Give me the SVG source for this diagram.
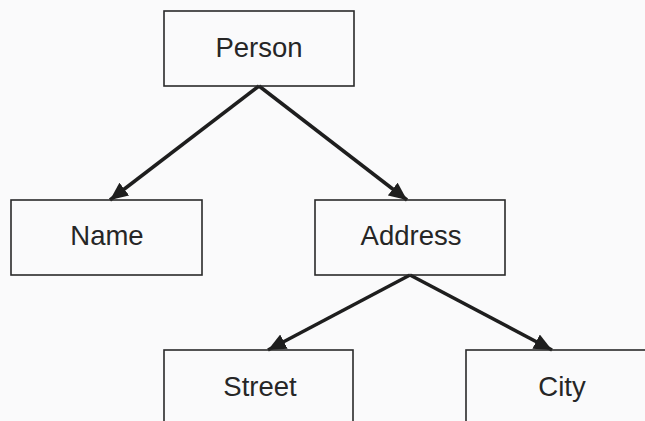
<svg xmlns="http://www.w3.org/2000/svg" width="645" height="421" viewBox="0 0 645 421">
<style>
.box{fill:none;stroke:#2a2a2a;stroke-width:1.6}
.lbl{font-family:"Liberation Sans",Arial,sans-serif;font-size:27.5px;fill:#262626;text-anchor:middle}
.edge{stroke:#1e1e1e;stroke-width:3.5;fill:none;marker-end:url(#ah)}
</style>
<defs>
<marker id="ah" markerUnits="userSpaceOnUse" markerWidth="20" markerHeight="16" refX="18" refY="8" orient="auto">
<path d="M0,0 L18,8 L0,16 Z" fill="#1e1e1e"/>
</marker>
</defs>
<rect width="645" height="421" fill="#fafafb"/>
<g id="connectors">
<line class="edge" x1="259" y1="86" x2="110" y2="200"/>
<line class="edge" x1="259" y1="86" x2="407" y2="200"/>
<line class="edge" x1="410" y1="275" x2="268" y2="350"/>
<line class="edge" x1="410" y1="275" x2="552" y2="350"/>
</g>
<g id="person"><rect class="box" x="164" y="11" width="190" height="75"/><text class="lbl" x="259" y="57">Person</text></g>
<g id="name"><rect class="box" x="11" y="200" width="191" height="75"/><text class="lbl" x="107" y="245">Name</text></g>
<g id="address"><rect class="box" x="315" y="200" width="190" height="75"/><text class="lbl" x="411" y="245">Address</text></g>
<g id="street"><rect class="box" x="164" y="350" width="189" height="80"/><text class="lbl" x="260" y="396">Street</text></g>
<g id="city"><rect class="box" x="466" y="350" width="190" height="80"/><text class="lbl" x="562" y="396">City</text></g>
</svg>
